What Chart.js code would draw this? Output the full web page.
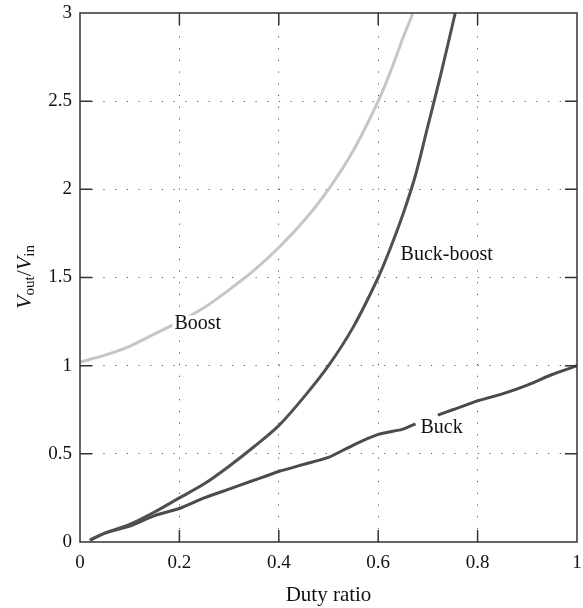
<!DOCTYPE html>
<html>
<head>
<meta charset="utf-8">
<script src="https://cdn.jsdelivr.net/npm/chart.js@4"></script>
<style>
  html, body { margin: 0; padding: 0; background: #fff; }
  #wrap { width: 583px; height: 608px; position: relative; }
</style>
</head>
<body>
<div id="wrap"><canvas id="chart"></canvas></div>
<script>
// Curves (duty ratio -> Vout/Vin)
const boostD = [0, 0.05, 0.1, 0.15, 0.2, 0.25, 0.3, 0.35, 0.4, 0.45, 0.5, 0.55, 0.6, 0.625, 0.65, 0.67];
const boostV = [1.02, 1.06, 1.11, 1.18, 1.25, 1.33, 1.43, 1.54, 1.67, 1.82, 2.0, 2.22, 2.5, 2.67, 2.86, 3.0];

const buckBoostD = [0.02, 0.05, 0.1, 0.15, 0.2, 0.25, 0.3, 0.35, 0.4, 0.45, 0.5, 0.55, 0.6, 0.625, 0.65, 0.675, 0.7, 0.725, 0.755];
const buckBoostV = [0.01, 0.05, 0.1, 0.17, 0.25, 0.33, 0.43, 0.54, 0.66, 0.82, 1.0, 1.22, 1.5, 1.67, 1.86, 2.08, 2.36, 2.64, 3.0];

// null = gap behind the "Buck" label
const buckD = [0.02, 0.05, 0.1, 0.15, 0.2, 0.25, 0.3, 0.35, 0.4, 0.45, 0.5, 0.55, 0.6, 0.65, 0.675, 0.7, 0.72, 0.75, 0.8, 0.85, 0.9, 0.95, 1.0];
const buckV = [0.01, 0.05, 0.09, 0.15, 0.19, 0.25, 0.3, 0.35, 0.4, 0.44, 0.48, 0.55, 0.61, 0.64, 0.67, null, 0.72, 0.75, 0.8, 0.84, 0.89, 0.95, 1.0];

const xTicks = [0, 0.2, 0.4, 0.6, 0.8, 1];
const yTicks = [0, 0.5, 1, 1.5, 2, 2.5, 3];

// curve labels: [text, duty ratio, value]
const curveLabels = [
  ["Boost", 0.19, 1.24],
  ["Buck-boost", 0.645, 1.63],
  ["Buck", 0.685, 0.65],
];

const FONT = "'Liberation Serif', 'DejaVu Serif', serif";

const toPoints = (xs, ys) => xs.map((x, i) => ({ x: x, y: ys[i] }));

// inner tick marks + frame, and the texts
const framePlugin = {
  id: "frame",
  afterDatasetsDraw(chart) {
    const { ctx, chartArea: a, scales } = chart;
    const xs = scales.x, ys = scales.y;

    // curve labels on white so the curve hides behind them
    ctx.save();
    ctx.font = "20px " + FONT;
    ctx.textBaseline = "middle";
    curveLabels.forEach(([txt, dx, dy]) => {
      const px = xs.getPixelForValue(dx);
      const py = ys.getPixelForValue(dy);
      const w = ctx.measureText(txt).width;
      ctx.fillStyle = "#fff";
      ctx.fillRect(px - 2, py - 8, w + 4, 16);
      ctx.fillStyle = "#111";
      ctx.fillText(txt, px, py);
    });
    ctx.restore();

    ctx.save();
    ctx.strokeStyle = "#333";
    ctx.lineWidth = 1.5;
    ctx.strokeRect(a.left, a.top, a.right - a.left, a.bottom - a.top);
    const len = 12;
    ctx.beginPath();
    xTicks.forEach((v) => {
      if (v === 0 || v === 1) return;
      const p = xs.getPixelForValue(v);
      ctx.moveTo(p, a.bottom); ctx.lineTo(p, a.bottom - len);
      ctx.moveTo(p, a.top); ctx.lineTo(p, a.top + len);
    });
    yTicks.forEach((v) => {
      if (v === 0 || v === 3) return;
      const p = ys.getPixelForValue(v);
      ctx.moveTo(a.left, p); ctx.lineTo(a.left + len, p);
      ctx.moveTo(a.right, p); ctx.lineTo(a.right - len, p);
    });
    ctx.stroke();
    ctx.restore();

    // axis titles
    ctx.save();
    ctx.fillStyle = "#111";
    ctx.font = "21px " + FONT;
    ctx.textAlign = "center";
    ctx.textBaseline = "middle";
    ctx.fillText("Duty ratio", (a.left + a.right) / 2, 595);

    ctx.translate(25, 277);
    ctx.rotate(-Math.PI / 2);
    const parts = [
      ["V", "italic 22px " + FONT, 0],
      ["out", "15px " + FONT, 5],
      ["/", "22px " + FONT, 0],
      ["V", "italic 22px " + FONT, 0],
      ["in", "15px " + FONT, 5],
    ];
    let total = 0;
    parts.forEach((p) => { ctx.font = p[1]; total += ctx.measureText(p[0]).width; });
    let x = -total / 2;
    ctx.textAlign = "left";
    parts.forEach((p) => {
      ctx.font = p[1];
      ctx.fillText(p[0], x, p[2]);
      x += ctx.measureText(p[0]).width;
    });
    ctx.restore();
  },
};

const gridColor = (edge) => (c) =>
  c.tick && (c.tick.value === 0 || c.tick.value === edge) ? "rgba(0,0,0,0)" : "#555";

new Chart(document.getElementById("chart"), {
  type: "line",
  data: {
    datasets: [
      {
        label: "Boost",
        data: toPoints(boostD, boostV),
        borderColor: "#c6c6c6",
        borderWidth: 3,
        pointRadius: 0,
        tension: 0.3,
      },
      {
        label: "Buck-boost",
        data: toPoints(buckBoostD, buckBoostV),
        borderColor: "#505050",
        borderWidth: 3,
        pointRadius: 0,
        tension: 0.3,
      },
      {
        label: "Buck",
        data: toPoints(buckD, buckV),
        borderColor: "#4a4a4a",
        borderWidth: 3,
        pointRadius: 0,
        tension: 0.2,
        spanGaps: false,
      },
    ],
  },
  options: {
    responsive: true,
    maintainAspectRatio: false,
    animation: false,
    layout: { padding: { top: 13, right: 6, left: 0, bottom: 0 } },
    plugins: { legend: { display: false }, tooltip: { enabled: false } },
    scales: {
      x: {
        type: "linear",
        min: 0,
        max: 1,
        afterFit: (s) => { s.height = 66; s.paddingLeft = 0; s.paddingRight = 0; },
        afterBuildTicks: (s) => { s.ticks = xTicks.map((v) => ({ value: v })); },
        grid: { color: gridColor(1), lineWidth: 1, drawTicks: false },
        border: { display: false, dash: [1.2, 10.5] },
        ticks: {
          padding: 10,
          color: "#111",
          font: { family: FONT, size: 19 },
          callback: (v) => String(v),
        },
      },
      y: {
        min: 0,
        max: 3,
        afterFit: (s) => { s.width = 80; s.paddingTop = 0; s.paddingBottom = 0; },
        afterBuildTicks: (s) => { s.ticks = yTicks.map((v) => ({ value: v })); },
        grid: { color: gridColor(3), lineWidth: 1, drawTicks: false },
        border: { display: false, dash: [1.2, 10.5] },
        ticks: {
          padding: 8,
          color: "#111",
          font: { family: FONT, size: 19 },
          callback: (v) => String(v),
        },
      },
    },
  },
  plugins: [framePlugin],
});
</script>
</body>
</html>
